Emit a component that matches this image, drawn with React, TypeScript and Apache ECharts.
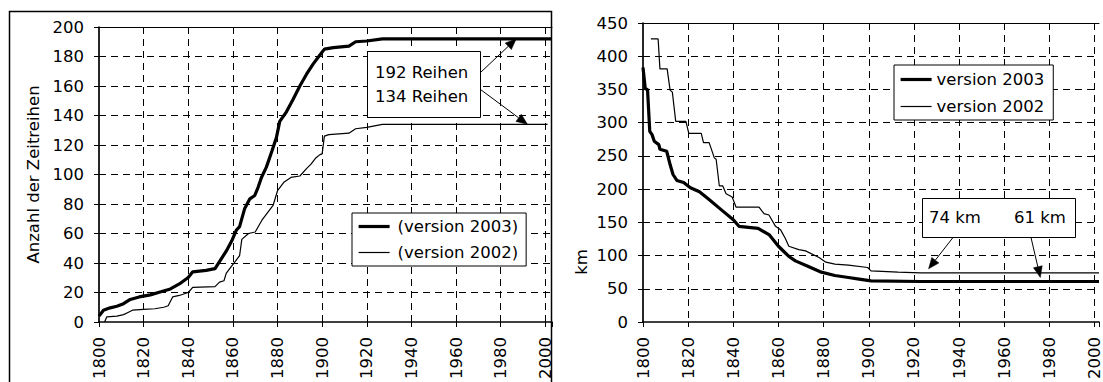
import React, { useEffect, useRef } from "react";
import * as echarts from "echarts";

// ---- Data ----
const leftYears2003 = [1800, 1802, 1805, 1808, 1811, 1814, 1818, 1823, 1827, 1832, 1836, 1840, 1842, 1848, 1852, 1854, 1857, 1859.4, 1861.6, 1863, 1865.3, 1867.6, 1869.8, 1871.3, 1872.8, 1875, 1877.5, 1879.5, 1881, 1884, 1887, 1890, 1893, 1896, 1899, 1901, 1905, 1912, 1915, 1920, 1927, 2003];
const leftCounts2003 = [4, 8, 9.6, 10.7, 12.4, 15.3, 17, 18.4, 20.2, 22.4, 25.8, 30.2, 34, 35, 36.2, 41, 48, 54.7, 62.4, 64.7, 77, 83.5, 85.8, 91.3, 98, 105, 116, 125, 136, 142.5, 151, 160, 168, 175, 181, 185, 186, 187, 190, 190.5, 192, 192];

const leftYears2002 = [1802.5, 1803.5, 1808, 1811, 1813, 1815, 1820, 1825, 1829, 1831, 1833, 1836, 1840, 1842, 1852, 1854, 1856, 1857, 1859, 1861, 1863, 1864, 1867, 1870, 1873, 1878, 1880, 1883, 1886, 1890, 1893, 1895, 1897, 1899, 1900, 1901, 1903, 1912, 1915, 1920, 1927, 2001];
const leftCounts2002 = [0, 3.5, 4, 5, 6.5, 8, 8.5, 9, 10, 11, 17, 18, 20, 23.5, 24, 27, 28, 33, 37, 41, 45, 56, 60, 61, 69, 79, 89, 95, 98, 99, 104, 107, 111, 113.5, 114, 126, 127, 128, 131, 132, 134, 134];

const rightYears2003 = [1800, 1801, 1802, 1803, 1804, 1805, 1807, 1807.5, 1810.5, 1812, 1813.3, 1815, 1818, 1821, 1825, 1829, 1835, 1840, 1842.5, 1851, 1856, 1860, 1864.5, 1867.5, 1873, 1879, 1885, 1891, 1895, 1901, 1923, 2002];
const rightKm2003 = [383, 351, 350, 287, 282, 272, 267, 260, 257, 237, 222, 213, 210, 202, 196, 185, 168, 154, 144, 141, 131, 114, 99, 92, 84, 75, 70, 67, 65, 62, 61, 61];

const rightYears2002 = [1803.5, 1806.7, 1807.5, 1810.7, 1812, 1813, 1814.5, 1819, 1820.3, 1825.8, 1826.8, 1829.3, 1831.6, 1832.4, 1833.8, 1835.3, 1836.8, 1839.5, 1841.2, 1851.4, 1853.6, 1855.8, 1858.7, 1860.9, 1863, 1864.6, 1869, 1872, 1878, 1881, 1885, 1891, 1899.5, 1901, 1913, 1923, 2002];
const rightKm2002 = [426, 426, 381, 381, 349, 346, 302, 302, 284, 284, 270, 270, 247, 245, 205, 205, 193, 188, 173, 173, 163, 161, 144, 139, 126, 114, 109, 107, 97, 90, 87, 85.5, 82, 77, 75, 74, 74];

const leftLegendNames = ["(version 2003)", "(version 2002)"];
const rightLegendNames = ["version 2003", "version 2002"];
const leftAxisTitle = "Anzahl der Zeitreihen";
const rightAxisTitle = "km";
const leftNotes = ["192 Reihen", "134 Reihen"];
const rightNotes = ["74 km", "61 km"];
const leftArrowTargets = [[1987, 192], [1992, 134]];
const rightArrowTargets = [[1926.5, 80], [1976, 67]];

const FONT = "DejaVu Sans";
const FS = 16.5;

function zip(xs: number[], ys: number[]) {
  return xs.map((x, i) => [x, ys[i]]);
}

function xAxisOf(gridIndex: number, max: number) {
  return {
    type: "value",
    gridIndex,
    min: 1800,
    max,
    interval: 20,
    axisLine: { show: true, onZero: false, lineStyle: { color: "#000", width: 1.7 } },
    axisTick: { show: true, inside: false, length: 5, lineStyle: { color: "#000", width: 1 } },
    axisLabel: {
      rotate: 90,
      margin: 15,
      fontFamily: FONT,
      fontSize: FS,
      color: "#000",
      formatter: (v: number) => (v % 20 === 0 ? String(v) : ""),
    },
    splitLine: {
      show: true,
      showMinLine: false,
      showMaxLine: false,
      lineStyle: { color: "#000", type: [7, 5], width: 1 },
    },
  };
}

function topAxisOf(gridIndex: number, max: number) {
  return {
    type: "value",
    gridIndex,
    position: "top",
    min: 1800,
    max,
    axisLine: { show: true, onZero: false, lineStyle: { color: "#000", width: 1 } },
    axisTick: { show: false },
    axisLabel: { show: false },
    splitLine: { show: false },
  };
}

function yAxisOf(gridIndex: number, max: number, interval: number, name: string) {
  return {
    type: "value",
    gridIndex,
    min: 0,
    max,
    interval,
    name,
    nameLocation: "middle",
    nameGap: 57,
    nameTextStyle: { fontFamily: FONT, fontSize: FS, color: "#000" },
    axisLine: { show: true, onZero: false, lineStyle: { color: "#000", width: 1.7 } },
    axisTick: { show: true, inside: false, length: 5, lineStyle: { color: "#000", width: 1 } },
    axisLabel: { margin: 15, fontFamily: FONT, fontSize: FS, color: "#000" },
    splitLine: {
      show: true,
      showMinLine: false,
      showMaxLine: false,
      lineStyle: { color: "#000", type: [7, 5], width: 1 },
    },
  };
}

function lineSeries(name: string, data: number[][], idx: number, width: number) {
  return {
    type: "line",
    name,
    xAxisIndex: idx,
    yAxisIndex: idx,
    data,
    symbol: "none",
    showSymbol: false,
    silent: true,
    lineStyle: { color: "#000", width },
    itemStyle: { color: "#000" },
    z: 3,
  };
}

const hiddenSymbol = { opacity: 0, color: "transparent", borderWidth: 0 };

function legendOf(names: string[], left: number, top: number, padding: number[], textPad: number, gap: number) {
  return {
    data: [
      { name: names[0], lineStyle: { width: 3.2, color: "#000" }, itemStyle: hiddenSymbol },
      { name: names[1], lineStyle: { width: 1.2, color: "#000" }, itemStyle: hiddenSymbol },
    ],
    orient: "vertical",
    left,
    top,
    itemWidth: 31,
    itemHeight: 14,
    itemGap: gap,
    padding,
    borderColor: "#000",
    borderWidth: 1,
    borderRadius: 0,
    backgroundColor: "#fff",
    selectedMode: false,
    itemStyle: hiddenSymbol,
    textStyle: { fontFamily: FONT, fontSize: FS, color: "#000", padding: [0, 0, 0, textPad] },
    z: 10,
  };
}

function arrow(tail: number[], tip: number[]) {
  const dx = tip[0] - tail[0];
  const dy = tip[1] - tail[1];
  const len = Math.sqrt(dx * dx + dy * dy);
  const ux = dx / len;
  const uy = dy / len;
  const L = 11;
  const W = 4.5;
  const bx = tip[0] - ux * L;
  const by = tip[1] - uy * L;
  const nx = -uy;
  const ny = ux;
  return [
    {
      type: "line",
      z: 50,
      shape: { x1: tail[0], y1: tail[1], x2: bx, y2: by },
      style: { stroke: "#000", lineWidth: 1 },
    },
    {
      type: "polygon",
      z: 50,
      shape: {
        points: [
          [tip[0], tip[1]],
          [bx + nx * W, by + ny * W],
          [bx - nx * W, by - ny * W],
        ],
      },
      style: { fill: "#000", stroke: "#000", lineWidth: 0.5 },
    },
  ];
}

function textEl(text: string, x: number, y: number, extra: any = {}) {
  return {
    type: "text",
    z: 60,
    x,
    y,
    ...extra,
    style: {
      text,
      x: 0,
      y: 0,
      fontFamily: FONT,
      fontSize: FS,
      fill: "#000",
      textAlign: extra.align || "left",
      textVerticalAlign: "middle",
    },
  };
}

export default function App() {
  const ref = useRef<HTMLDivElement>(null);

  useEffect(() => {
    if (!ref.current) return;
    const chart = echarts.init(ref.current, undefined, { renderer: "svg" });
    chart.setOption({
      animation: false,
      backgroundColor: "#fff",
      grid: [
        { left: 99, top: 27, width: 453, height: 300, containLabel: false },
        { left: 643, top: 23, width: 460, height: 304, containLabel: false },
      ],
      xAxis: [xAxisOf(0, 2003), xAxisOf(1, 2002), topAxisOf(0, 2003), topAxisOf(1, 2002)],
      yAxis: [yAxisOf(0, 200, 20, leftAxisTitle), yAxisOf(1, 450, 50, "")],
      legend: [
        legendOf(leftLegendNames, 352, 213, [5, 8, 5, 5], 3, 9),
        legendOf(rightLegendNames, 894, 65, [6, 9, 5, 5], 0, 10),
      ],
      series: [
        lineSeries(leftLegendNames[0], zip(leftYears2003, leftCounts2003), 0, 3.2),
        lineSeries(leftLegendNames[1], zip(leftYears2002, leftCounts2002), 0, 1.2),
        lineSeries(rightLegendNames[0], zip(rightYears2003, rightKm2003), 1, 3.2),
        lineSeries(rightLegendNames[1], zip(rightYears2002, rightKm2002), 1, 1.2),
      ],
    });

    const px0 = (p: number[]) => chart.convertToPixel({ xAxisIndex: 0, yAxisIndex: 0 }, p) as number[];
    const px1 = (p: number[]) => chart.convertToPixel({ xAxisIndex: 1, yAxisIndex: 1 }, p) as number[];

    const leftBox = { x: 367.5, y: 51.5, w: 113, h: 66 };
    const rightBox = { x: 922.5, y: 198.5, w: 153, h: 39 };

    const graphics: any[] = [
      {
        type: "rect",
        z: 0,
        shape: { x: 9.5, y: 11.5, width: 542, height: 420 },
        style: { fill: "none", stroke: "#000", lineWidth: 1.5 },
      },
      {
        type: "rect",
        z: 55,
        shape: { x: leftBox.x, y: leftBox.y, width: leftBox.w, height: leftBox.h },
        style: { fill: "#fff", stroke: "#000", lineWidth: 1 },
      },
      textEl(leftNotes[0], 375, 72),
      textEl(leftNotes[1], 375, 96),
      ...arrow([leftBox.x + leftBox.w, 72.5], px0(leftArrowTargets[0])),
      ...arrow([leftBox.x + leftBox.w, 89.5], px0(leftArrowTargets[1])),
      {
        type: "rect",
        z: 55,
        shape: { x: rightBox.x, y: rightBox.y, width: rightBox.w, height: rightBox.h },
        style: { fill: "#fff", stroke: "#000", lineWidth: 1 },
      },
      textEl(rightNotes[0], 929, 217),
      textEl(rightNotes[1], 1014, 217),
      ...arrow([953, rightBox.y + rightBox.h], px1(rightArrowTargets[0])),
      ...arrow([1031, rightBox.y + rightBox.h], px1(rightArrowTargets[1])),
      textEl(rightAxisTitle, 581, 262, { rotation: Math.PI / 2, align: "center" }),
    ];
    chart.setOption({ graphic: graphics });

    return () => chart.dispose();
  }, []);

  return (
    <div
      ref={ref}
      style={{ position: "fixed", left: 0, top: 0, width: 1103, height: 382, background: "#fff" }}
    />
  );
}
